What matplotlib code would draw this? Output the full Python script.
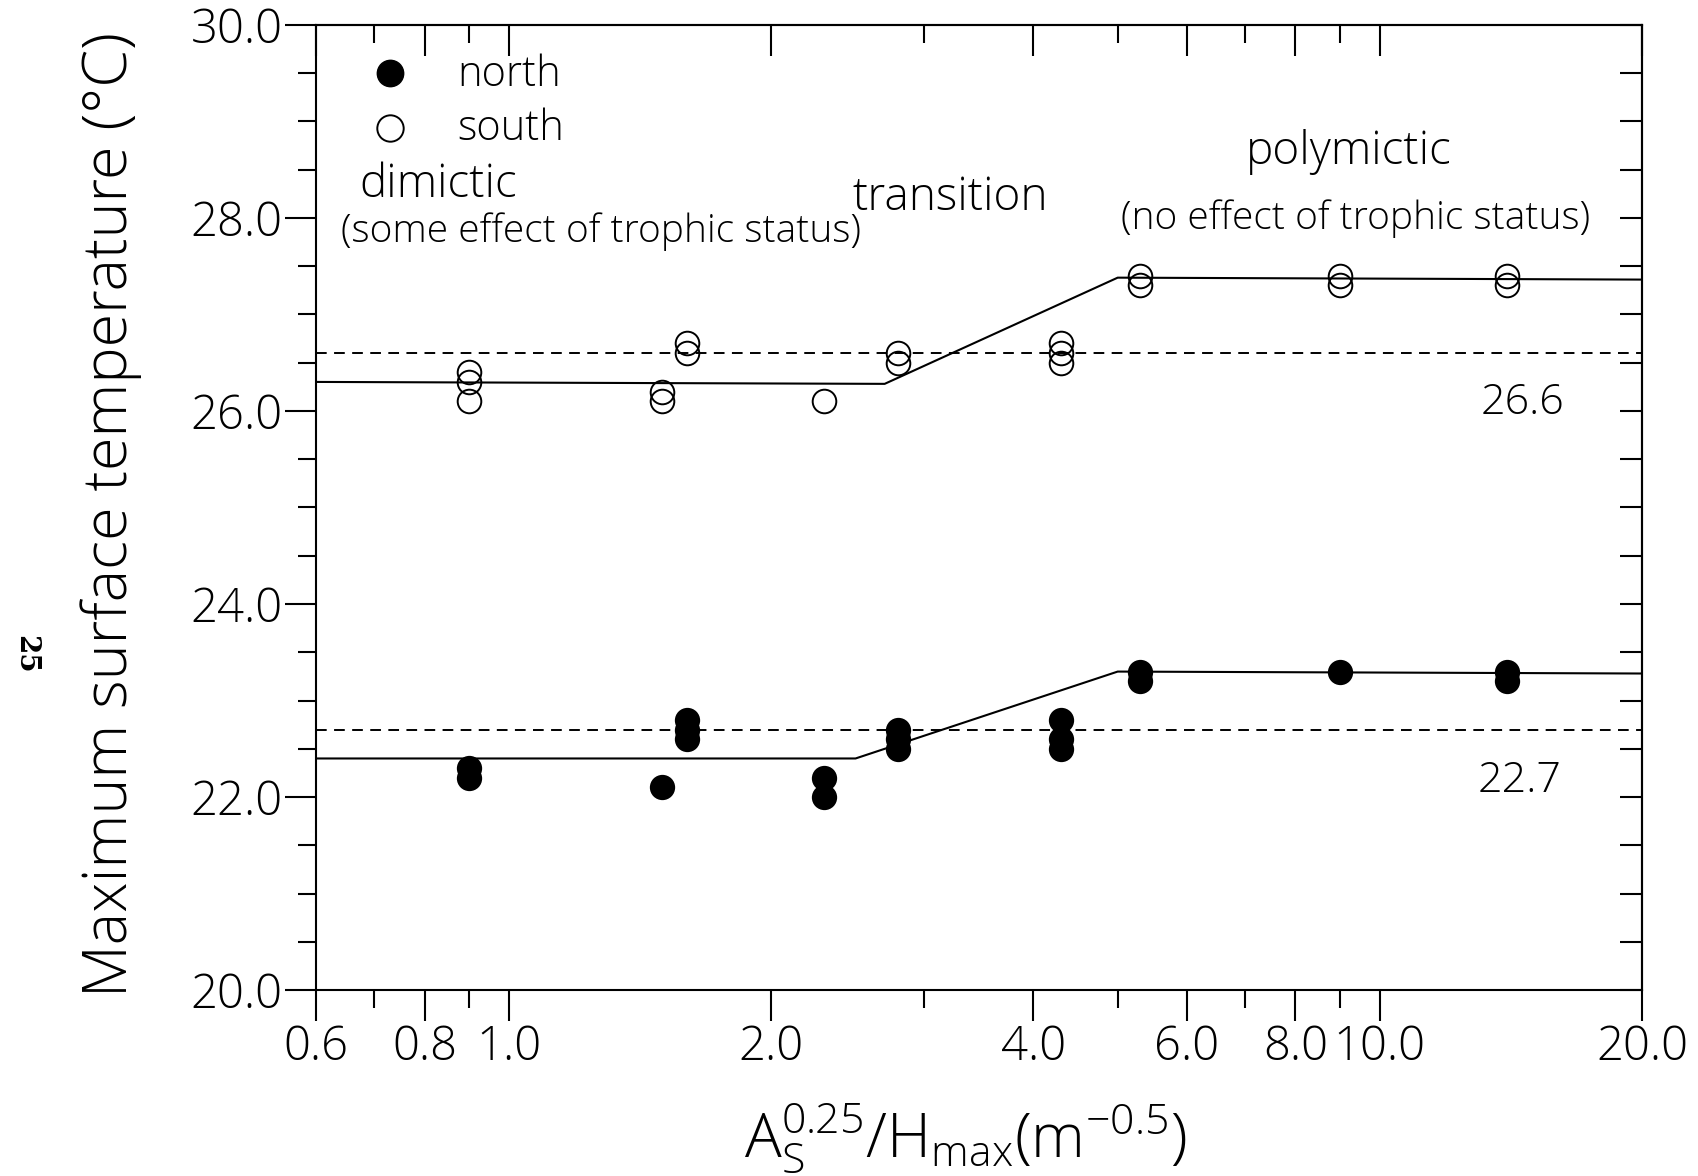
"""
Maximum surface temperature against the lake shape index
As^0.25 / Hmax for northern and southern lakes, with the
piecewise fits and the mean level of each group.
"""

import matplotlib
matplotlib.use('Agg')
import matplotlib.pyplot as plt

# Observed lakes
north_x = [0.9, 0.9, 1.5, 1.6, 1.6, 1.6, 2.3, 2.3, 2.8, 2.8, 2.8,
           4.3, 4.3, 4.3, 5.3, 5.3, 9.0, 14.0, 14.0]
north_y = [22.3, 22.2, 22.1, 22.8, 22.7, 22.6, 22.2, 22.0, 22.7, 22.6, 22.5,
           22.8, 22.6, 22.5, 23.3, 23.2, 23.3, 23.3, 23.2]

south_x = [0.9, 0.9, 0.9, 1.5, 1.5, 1.6, 1.6, 2.3, 2.8, 2.8,
           4.3, 4.3, 4.3, 5.3, 5.3, 9.0, 9.0, 14.0, 14.0]
south_y = [26.4, 26.3, 26.1, 26.2, 26.1, 26.7, 26.6, 26.1, 26.6, 26.5,
           26.7, 26.6, 26.5, 27.4, 27.3, 27.4, 27.3, 27.4, 27.3]

# Piecewise fits (dimictic / transition / polymictic)
north_fit_x = [0.6, 2.5, 5.0, 20.0]
north_fit_y = [22.4, 22.4, 23.3, 23.28]
south_fit_x = [0.6, 2.7, 5.0, 20.0]
south_fit_y = [26.3, 26.28, 27.38, 27.36]

# Group means
north_mean = 22.7
south_mean = 26.6

x_major = [0.6, 0.8, 1.0, 2.0, 4.0, 6.0, 8.0, 10.0, 20.0]
x_minor = [0.7, 0.9, 3.0, 5.0, 7.0, 9.0]
y_major = [20.0, 22.0, 24.0, 26.0, 28.0, 30.0]
y_minor = [20.5, 21.0, 21.5, 22.5, 23.0, 23.5, 24.5, 25.0, 25.5,
           26.5, 27.0, 27.5, 28.5, 29.0, 29.5]

FONT = 'Open Sans'
plt.rcParams['font.family'] = [FONT, 'DejaVu Sans']
plt.rcParams['font.weight'] = 'light'
plt.rcParams['axes.labelweight'] = 'light'
plt.rcParams['mathtext.fontset'] = 'custom'
plt.rcParams['mathtext.rm'] = FONT + ':light'
plt.rcParams['mathtext.it'] = FONT + ':light'

fig = plt.figure(figsize=(16.98, 11.76), dpi=100)
ax = fig.add_axes([0.186, 0.158, 0.781, 0.821])

ax.set_xscale('log')
ax.set_xlim(0.6, 20.0)
ax.set_ylim(20.0, 30.0)

# fitted lines and means
ax.plot(north_fit_x, north_fit_y, color='black', lw=1.5)
ax.plot(south_fit_x, south_fit_y, color='black', lw=1.5)
ax.plot([0.6, 20.0], [north_mean, north_mean], color='black', lw=1.4,
        ls=(0, (5.5, 3.8)))
ax.plot([0.6, 20.0], [south_mean, south_mean], color='black', lw=1.4,
        ls=(0, (5.5, 3.8)))

# lakes
ax.plot(north_x, north_y, 'o', color='black', ms=17, mew=1.2, ls='none')
ax.plot(south_x, south_y, 'o', mfc='none', mec='black', ms=17, mew=1.4,
        ls='none')

# axes and ticks
ax.set_xticks(x_major)
ax.set_xticklabels([f'{v:.1f}' for v in x_major])
ax.set_xticks(x_minor, minor=True)
ax.set_xticklabels([], minor=True)
ax.set_yticks(y_major)
ax.set_yticklabels([f'{v:.1f}' for v in y_major])
ax.set_yticks(y_minor, minor=True)

for side in ax.spines.values():
    side.set_linewidth(1.5)

ax.tick_params(which='major', direction='out', length=22, width=1.5,
               labelsize=34, pad=2)
ax.tick_params(which='minor', direction='out', length=13, width=1.5)
ax.tick_params(axis='x', which='major', labelsize=34, pad=2)

top = ax.secondary_xaxis('top')
top.set_xticks(x_major)
top.set_xticks(x_minor, minor=True)
top.tick_params(which='major', direction='in', length=22, width=1.5,
                labeltop=False)
top.tick_params(which='minor', direction='in', length=13, width=1.5,
                labeltop=False)
top.spines['top'].set_linewidth(1.5)

right = ax.secondary_yaxis('right')
right.set_yticks(y_major)
right.set_yticks(y_minor, minor=True)
right.tick_params(which='both', direction='in', length=16, width=1.5,
                  labelright=False)
right.spines['right'].set_linewidth(1.5)

ax.set_ylabel('Maximum surface temperature (°C)', fontsize=44)
ax.yaxis.set_label_coords(-0.131, 0.493)
ax.set_xlabel(r'$\mathrm{A_S^{0.25}/H_{max}(m^{-0.5})}$', fontsize=44)
ax.xaxis.set_label_coords(0.49, -0.114)

# legend drawn by hand
ax.plot([0.0558], [0.950], 'o', color='black', ms=19, transform=ax.transAxes)
ax.plot([0.0558], [0.893], 'o', mfc='none', mec='black', ms=19, mew=1.4,
        transform=ax.transAxes)
ax.text(0.107, 0.948, 'north', fontsize=30, va='center', transform=ax.transAxes)
ax.text(0.107, 0.892, 'south', fontsize=30, va='center', transform=ax.transAxes)

# regime labels
ax.text(0.033, 0.834, 'dimictic', fontsize=33, va='center',
        transform=ax.transAxes)
ax.text(0.019, 0.786, '(some effect of trophic status)', fontsize=28,
        va='center', transform=ax.transAxes)
ax.text(0.405, 0.820, 'transition', fontsize=33, va='center',
        transform=ax.transAxes)
ax.text(0.701, 0.868, 'polymictic', fontsize=33, va='center',
        transform=ax.transAxes)
ax.text(0.607, 0.799, '(no effect of trophic status)', fontsize=28,
        va='center', transform=ax.transAxes)

# mean values
ax.text(0.878, 0.608, f'{south_mean:.1f}', fontsize=31, va='center',
        transform=ax.transAxes)
ax.text(0.876, 0.217, f'{north_mean:.1f}', fontsize=31, va='center',
        transform=ax.transAxes)

# page number
fig.text(0.015, 0.444, '25', fontsize=20, fontweight='bold',
         family='DejaVu Serif', rotation=-90, ha='center', va='center')

fig.savefig('out.png', dpi=100)
